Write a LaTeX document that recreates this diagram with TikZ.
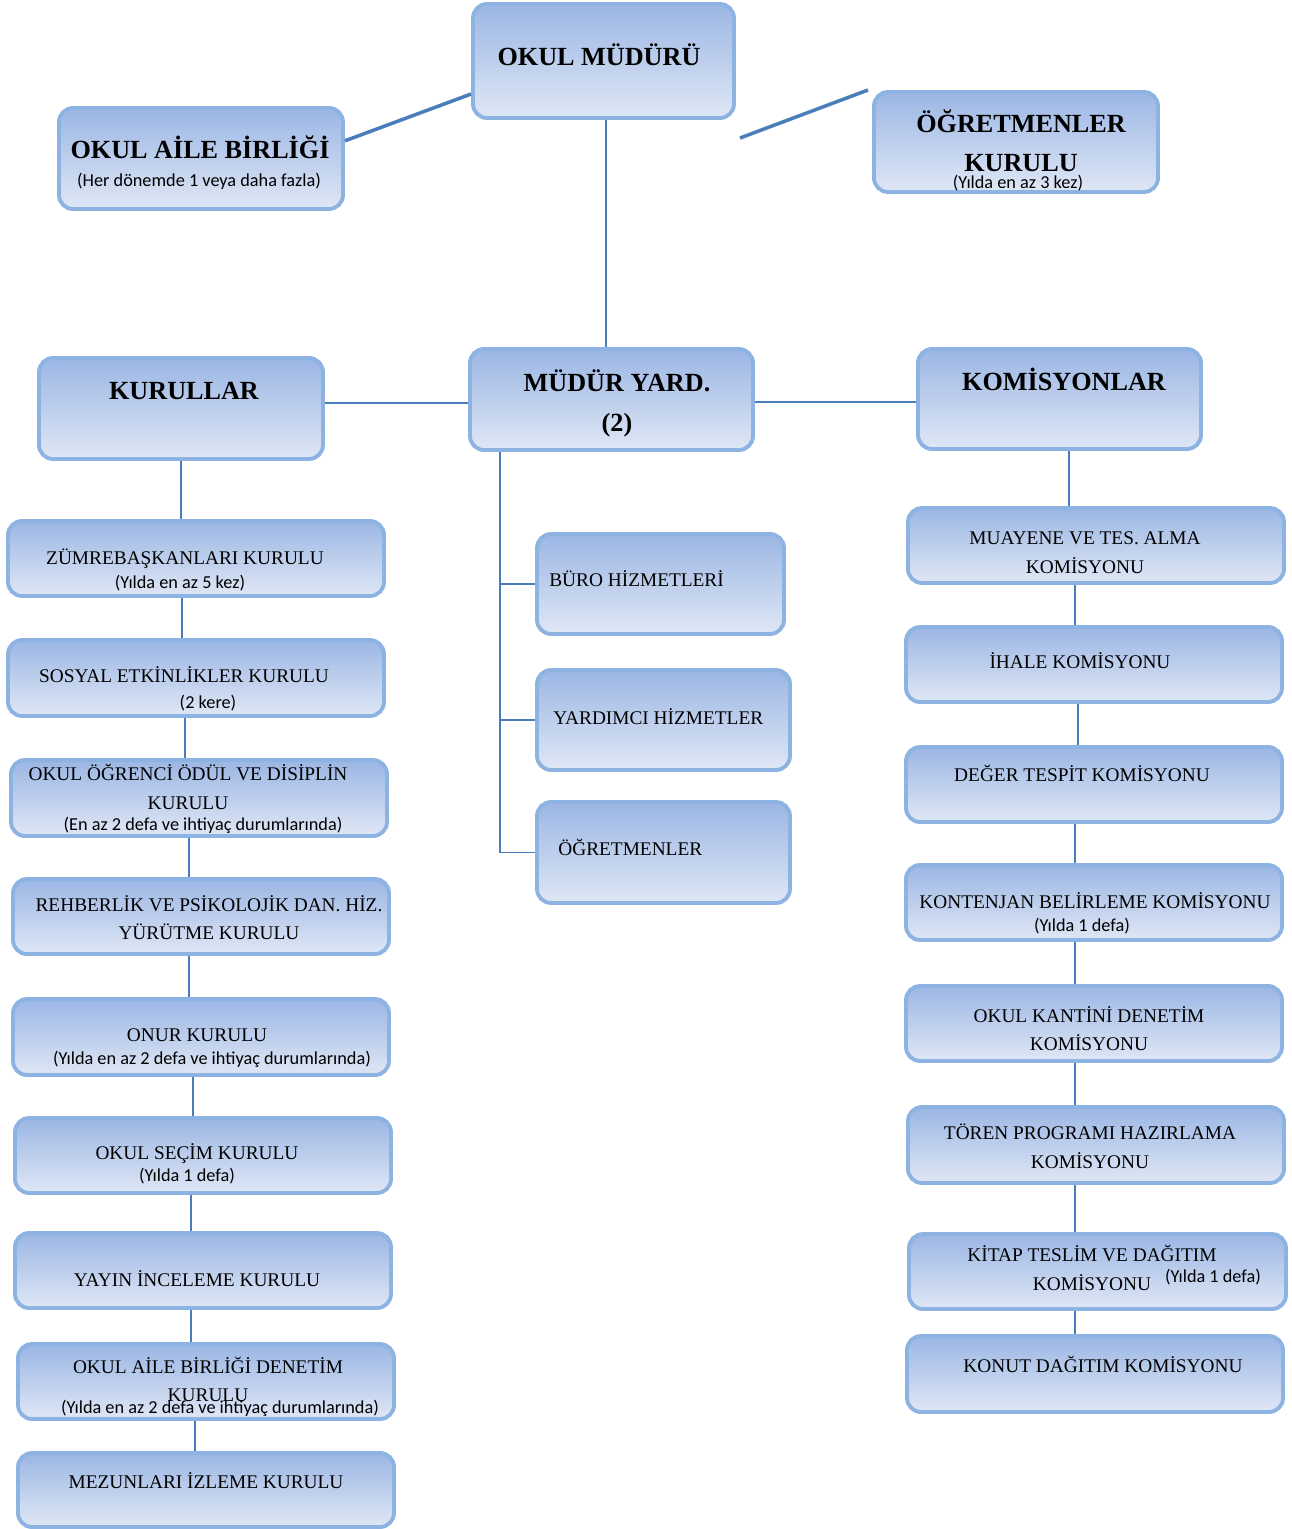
\documentclass[tikz,border=0pt]{standalone}
\usepackage{fontspec}
\setmainfont{Liberation Serif}
\newfontfamily\notfont{Carlito}
\usepackage{tikz}
\usetikzlibrary{fit, positioning}
\definecolor{kenar}{HTML}{8DB3E2}
\definecolor{ust}{HTML}{9BB6E4}
\definecolor{alt}{HTML}{DFE7F5}
\definecolor{hat}{HTML}{4A7EBB}
\tikzstyle{kutu} = [draw=kenar, line width=2.2pt, rounded corners=8pt, top color=ust, bottom color=alt, inner sep=0pt]
\tikzstyle{baslik} = [font=\fontsize{14.9}{17}\selectfont\bfseries, inner sep=0pt, anchor=mid, yshift=-2.6pt]
\tikzstyle{yazi} = [font=\fontsize{11}{13}\selectfont, inner sep=0pt, anchor=mid, yshift=-1.7pt]
\tikzstyle{aciklama} = [font=\notfont\fontsize{10.4}{12}\selectfont, inner sep=0pt, anchor=mid, yshift=-1.1pt]
\tikzstyle{line} = [draw=hat, line width=1.1pt]
\tikzstyle{kalin} = [draw=hat, line width=2pt]

\begin{document}
\begin{tikzpicture}[x=0.02cm, y=-0.02cm]
	\useasboundingbox (0,0) rectangle (1292,1529);

	% ust kutular
	\node [kutu, fit={(473,4) (734,118)}] (om) {};
	\node [kutu, fit={(59,108) (343,209)}] (oab) {};
	\node [kutu, fit={(874,92) (1158,192)}] (ok) {};
	\node [kutu, fit={(39,358) (323,459)}] (kur) {};
	\node [kutu, fit={(470,349) (753,450)}] (my) {};
	\node [kutu, fit={(918,349) (1201,449)}] (kom) {};

	% kurullar
	\node [kutu, fit={(8,521) (384,596)}] (z1) {};
	\node [kutu, fit={(8,640) (384,716)}] (z2) {};
	\node [kutu, fit={(11,760) (387,836)}] (z3) {};
	\node [kutu, fit={(13,879) (389,954)}] (z4) {};
	\node [kutu, fit={(13,999) (389,1075)}] (z5) {};
	\node [kutu, fit={(15,1118) (391,1193)}] (z6) {};
	\node [kutu, fit={(15,1233) (391,1308)}] (z7) {};
	\node [kutu, fit={(18,1344) (394,1419)}] (z8) {};
	\node [kutu, fit={(18,1453) (394,1527)}] (z9) {};

	% hizmetler
	\node [kutu, fit={(537,534) (784,634)}] (b1) {};
	\node [kutu, fit={(537,670) (790,770)}] (b2) {};
	\node [kutu, fit={(537,802) (790,903)}] (b3) {};

	% komisyonlar
	\node [kutu, fit={(908,508) (1284,583)}] (m1) {};
	\node [kutu, fit={(906,627) (1282,702)}] (m2) {};
	\node [kutu, fit={(906,747) (1282,822)}] (m3) {};
	\node [kutu, fit={(906,865) (1282,940)}] (m4) {};
	\node [kutu, fit={(906,986) (1282,1061)}] (m5) {};
	\node [kutu, fit={(908,1107) (1284,1183)}] (m6) {};
	\node [kutu, fit={(909,1234) (1286,1309)}] (m7) {};
	\node [kutu, fit={(907,1336) (1283,1412)}] (m8) {};

	% baglantilar
	\path [kalin] (oab.7) -- (om.194);
	\coordinate (s1) at (740,138);
	\coordinate (s2) at (868,90);
	\path [kalin] (s1) -- (s2);
	\coordinate (h) at (606,0);
	\path [line] (om.south -| h) -- (my.north -| h);
	\coordinate (v1) at (0,403);
	\path [line] (kur.east |- v1) -- (my.west |- v1);
	\coordinate (v2) at (0,402);
	\path [line] (my.east |- v2) -- (kom.west |- v2);
	\coordinate (kx) at (500,0);
	\path [line] (my.south -| kx) |- (b1.west);
	\path [line] (my.south -| kx) |- (b2.west);
	\path [line] (my.south -| kx) |- (b3.west);
	\foreach \a/\b/\x in {kur/z1/181, z1/z2/182, z2/z3/185, z3/z4/189, z4/z5/189, z5/z6/193, z6/z7/191, z7/z8/191, z8/z9/195, kom/m1/1069, m1/m2/1075, m2/m3/1078, m3/m4/1075, m4/m5/1075, m5/m6/1075, m6/m7/1075, m7/m8/1075}{
		\coordinate (h) at (\x,0);
		\path [line] (\a.south -| h) -- (\b.north -| h);
	}

	% yazilar
	\node [baslik] (t-om) at (599,57) {OKUL MÜDÜRÜ};
	\node [baslik] (t-oab) at (200,150) {OKUL AİLE BİRLİĞİ};
	\node [aciklama] (a-oab) at (199,181) {(Her dönemde 1 veya daha fazla)};
	\node [baslik] (t-ok1) at (1021,124) {ÖĞRETMENLER};
	\node [baslik] (t-ok2) at (1021,163) {KURULU};
	\node [aciklama] (a-ok) at (1018,183) {(Yılda en az 3 kez)};
	\node [baslik] (t-kur) at (184,391) {KURULLAR};
	\node [baslik] (t-my1) at (617,383) {MÜDÜR YARD.};
	\node [baslik] (t-my2) at (617,423) {(2)};
	\node [baslik] (t-kom) at (1064,382) {KOMİSYONLAR};

	\node [yazi] (t-z1) at (185,557) {ZÜMREBAŞKANLARI KURULU};
	\node [aciklama] (a-z1) at (180,583) {(Yılda en az 5 kez)};
	\node [yazi] (t-z2) at (184,675) {SOSYAL ETKİNLİKLER KURULU};
	\node [aciklama] (a-z2) at (208,703) {(2 kere)};
	\node [yazi] (t-z3a) at (188,773) {OKUL ÖĞRENCİ ÖDÜL VE DİSİPLİN};
	\node [yazi] (t-z3b) at (188,802) {KURULU};
	\node [aciklama] (a-z3) at (203,825) {(En az 2 defa ve ihtiyaç durumlarında)};
	\node [yazi] (t-z4a) at (209,904) {REHBERLİK VE PSİKOLOJİK DAN. HİZ.};
	\node [yazi] (t-z4b) at (209,932) {YÜRÜTME KURULU};
	\node [yazi] (t-z5) at (197,1034) {ONUR KURULU};
	\node [aciklama] (a-z5) at (212,1059) {(Yılda en az 2 defa ve ihtiyaç durumlarında)};
	\node [yazi] (t-z6) at (197,1152) {OKUL SEÇİM KURULU};
	\node [aciklama] (a-z6) at (187,1176) {(Yılda 1 defa)};
	\node [yazi] (t-z7) at (197,1279) {YAYIN İNCELEME KURULU};
	\node [yazi] (t-z8a) at (208,1366) {OKUL AİLE BİRLİĞİ DENETİM};
	\node [yazi] (t-z8b) at (208,1394) {KURULU};
	\node [aciklama] (a-z8) at (220,1408) {(Yılda en az 2 defa ve ihtiyaç durumlarında)};
	\node [yazi] (t-z9) at (206,1481) {MEZUNLARI İZLEME KURULU};

	\node [yazi, anchor=mid west] (t-b1) at (549,579) {BÜRO HİZMETLERİ};
	\node [yazi, anchor=mid west] (t-b2) at (553,717) {YARDIMCI HİZMETLER};
	\node [yazi, anchor=mid west] (t-b3) at (558,848) {ÖĞRETMENLER};

	\node [yazi] (t-m1a) at (1085,537) {MUAYENE VE TES. ALMA};
	\node [yazi] (t-m1b) at (1085,566) {KOMİSYONU};
	\node [yazi] (t-m2) at (1080,661) {İHALE KOMİSYONU};
	\node [yazi] (t-m3) at (1082,774) {DEĞER TESPİT KOMİSYONU};
	\node [yazi] (t-m4) at (1095,901) {KONTENJAN BELİRLEME KOMİSYONU};
	\node [aciklama] (a-m4) at (1082,926) {(Yılda 1 defa)};
	\node [yazi] (t-m5a) at (1089,1015) {OKUL KANTİNİ DENETİM};
	\node [yazi] (t-m5b) at (1089,1043) {KOMİSYONU};
	\node [yazi] (t-m6a) at (1090,1132) {TÖREN PROGRAMI HAZIRLAMA};
	\node [yazi] (t-m6b) at (1090,1161) {KOMİSYONU};
	\node [yazi] (t-m7a) at (1092,1254) {KİTAP TESLİM VE DAĞITIM};
	\node [yazi] (t-m7b) at (1092,1283) {KOMİSYONU};
	\node [aciklama] (a-m7) at (1213,1277) {(Yılda 1 defa)};
	\node [yazi] (t-m8) at (1103,1365) {KONUT DAĞITIM KOMİSYONU};
\end{tikzpicture}
\end{document}
